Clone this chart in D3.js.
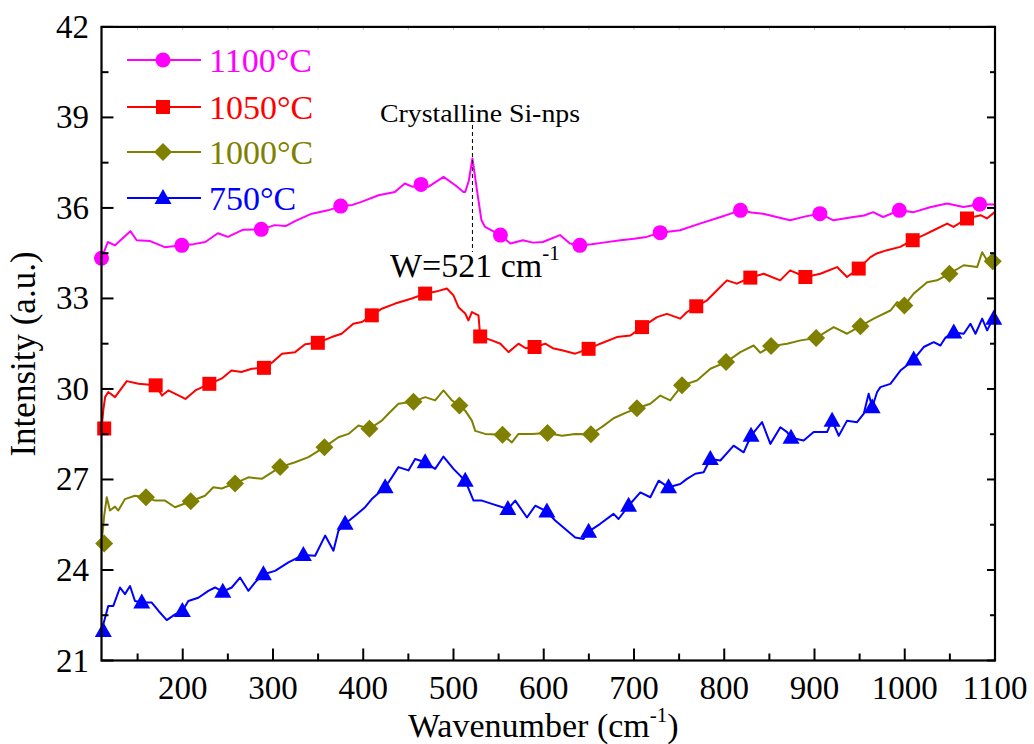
<!DOCTYPE html>
<html><head><meta charset="utf-8">
<script src="https://cdn.jsdelivr.net/npm/d3@7"></script>
<style>
body{margin:0;background:#fff}
text{font-family:"Liberation Serif","Times New Roman",serif}
</style>
</head><body>
<svg id="chart" width="1034" height="744"></svg>
<script>
// ---------------- data ----------------
const xTickValues = [200,300,400,500,600,700,800,900,1000,1100];
const yTickValues = [21,24,27,30,33,36,39,42];
const seriesNames = ["1100°C","1050°C","1000°C","750°C"];

const line1100 = [[110,34.33],[117,34.87],[125,34.76],[142,35.23],[149,34.93],[164,34.9],[180,34.7],[199,34.76],[212,34.8],[225,34.87],[239,35.16],[250,35.04],[267,35.28],[287,35.29],[302,35.43],[314,35.4],[325,35.57],[343,35.81],[361,35.92],[375,36.06],[388,36.1],[398,36.2],[417,36.42],[435,36.53],[446,36.81],[455,36.7],[464,36.78],[472,36.7],[489,37.03],[502,36.75],[511,36.53],[513,36.53],[517,36.9],[521,37.64],[526,36.59],[531,35.59],[535,35.37],[552,35.1],[563,34.82],[577,34.93],[588,34.85],[599,34.87],[618,35.1],[629,34.82],[640,34.76],[653,34.8],[666,34.85],[685,34.93],[700,34.98],[714,35.04],[729,35.18],[751,35.26],[773,35.48],[796,35.7],[808,35.82],[818,35.92],[830,35.85],[843,35.81],[858,35.7],[873,35.59],[890,35.72],[906,35.81],[921,35.59],[943,35.7],[955,35.75],[965,35.86],[976,35.7],[994,35.92],[1010,35.86],[1028,36.02],[1047,36.15],[1065,36.03],[1083,36.12],[1100,36.11]];
const markers1100 = [[110,34.33],[199,34.76],[287,35.29],[375,36.06],[464,36.78],[552,35.1],[640,34.76],[729,35.18],[818,35.92],[906,35.81],[994,35.92],[1083,36.12]];

const line1050 = [[110,28.65],[112,29.3],[114,29.73],[117.5,29.9],[125,29.73],[138,30.26],[151,30.17],[170,30.12],[177,29.78],[184,29.95],[203,29.67],[214,29.95],[229.5,30.17],[243,30.34],[254,30.61],[265,30.56],[276.5,30.67],[290,30.7],[300,30.9],[310,31.17],[324.5,31.22],[335.6,31.48],[349.7,31.53],[365,31.72],[376,31.83],[389,32.16],[398.5,32.22],[409.5,32.44],[420.6,32.66],[435.4,32.83],[453.9,33.0],[468.6,33.16],[483.4,33.25],[492.7,33.33],[500,33.1],[505.5,32.71],[513,32.5],[516.6,32.27],[520.4,32.55],[527.7,32.44],[529.6,31.74],[542.6,31.61],[552,31.5],[561,31.22],[572,31.5],[580,31.35],[589.8,31.39],[601.7,31.5],[610,31.35],[620.2,31.28],[634.9,31.17],[649.7,31.33],[662.6,31.5],[681,31.72],[696,31.77],[708.9,32.05],[725.5,32.38],[736.5,32.49],[751.3,32.33],[758.7,32.55],[769,32.74],[781,32.94],[792,33.27],[803,33.6],[814,33.49],[828.9,33.69],[843.7,33.82],[862,33.6],[873,33.93],[889.9,33.71],[906.5,33.82],[925,34.04],[936,33.71],[949,33.99],[962,34.37],[969,34.49],[980.5,34.6],[995,34.71],[1008.8,34.93],[1021,35.1],[1032,35.26],[1047,35.48],[1054,35.37],[1069,35.65],[1084,35.76],[1091,35.65],[1100,35.87]];
const markers1050 = [[113,28.69],[170,30.12],[229.5,30.17],[290,30.7],[349.7,31.53],[409.5,32.44],[468.6,33.16],[529.6,31.74],[589.8,31.39],[649.7,31.33],[708.9,32.05],[769,32.74],[828.9,33.69],[889.9,33.71],[949,33.99],[1008.8,34.93],[1069,35.65]];

const line1000 = [[110,24.86],[113,25.8],[115.8,26.41],[119.4,25.97],[125,26.1],[128.6,25.97],[136,26.35],[147,26.46],[159.3,26.41],[169.3,26.3],[180.4,26.3],[191.5,26.08],[208.9,26.28],[224.7,26.46],[233.9,26.74],[243.2,26.7],[258,26.87],[272.7,27.07],[287.6,27.02],[307.9,27.41],[324.5,27.57],[339.3,27.74],[357,28.07],[372.5,28.4],[383.6,28.51],[394.7,28.79],[406.9,28.68],[420.6,28.95],[427.9,29.18],[439,29.51],[455.7,29.58],[468.6,29.73],[479.7,29.62],[488.9,29.95],[498.2,29.62],[506.6,29.45],[513,29.28],[520.4,28.95],[524.1,28.61],[535.1,28.51],[554.3,28.48],[564.7,28.23],[572,28.51],[586.9,28.51],[604.2,28.54],[620.2,28.45],[634.9,28.51],[652.3,28.5],[665,28.75],[677.4,29.03],[690,29.2],[703.3,29.36],[718.1,29.51],[729.1,29.78],[740.2,29.62],[753.2,30.12],[769.8,30.28],[784.6,30.67],[802,30.89],[817.8,31.22],[832.6,31.44],[840,31.2],[851.9,31.42],[869.6,31.5],[884.6,31.61],[901.8,31.69],[921.3,32.05],[936.1,31.83],[950.9,32.08],[965.6,32.33],[984.1,32.6],[991.6,32.88],[999.6,32.77],[1009.9,33.16],[1024.8,33.54],[1035.8,33.6],[1049.5,33.82],[1065.4,34.1],[1080.2,34.04],[1085.8,34.53],[1091.3,34.26],[1100,34.23]];
const markers1000 = [[113,24.88],[159.3,26.41],[208.9,26.28],[258,26.87],[307.9,27.41],[357,28.07],[406.9,28.68],[455.7,29.58],[506.6,29.45],[554.3,28.48],[604.2,28.54],[652.3,28.5],[703.3,29.36],[753.2,30.12],[802,30.89],[851.9,31.42],[901.8,31.69],[950.9,32.08],[999.6,32.77],[1049.5,33.82],[1097.5,34.23]];

const line750 = [[110,21.98],[117.5,22.81],[123.1,22.81],[130.5,23.42],[136,23.2],[141.6,23.47],[147.1,22.97],[154.6,22.92],[165.7,22.92],[173,22.65],[182.3,22.34],[191.5,22.53],[199.6,22.64],[206.2,22.97],[217.3,23.08],[228.4,23.31],[235.8,23.42],[244.4,23.28],[254.3,23.42],[263.5,23.75],[272.7,23.31],[280.2,23.59],[289.4,23.86],[302.3,23.97],[317.1,24.25],[333.7,24.5],[346.7,24.47],[357.8,25.14],[367,24.64],[372.5,25.3],[379.9,25.53],[391,25.8],[402.1,26.08],[409.5,26.35],[424.3,26.74],[431.7,27.07],[439,27.41],[450.1,27.3],[457.5,27.68],[468.6,27.57],[479.7,27.35],[488.9,27.76],[500,27.35],[513,26.96],[522.2,26.3],[531.5,26.3],[542.6,26.19],[560.3,26.02],[568.4,26.3],[581.4,25.74],[590.6,26.13],[603.5,25.94],[612.7,25.64],[623.8,25.36],[634.9,25.08],[644.1,25.03],[649.7,25.27],[662.6,25.53],[677.4,25.86],[682.9,25.69],[694,26.13],[707,26.57],[718.1,26.41],[727.3,26.96],[738.3,26.74],[751.3,26.85],[758.7,27.02],[767.9,27.19],[777.2,27.24],[784.6,27.68],[795.7,27.63],[810.4,28.12],[821.5,27.9],[829.7,28.45],[841.9,28.9],[851.1,28.18],[862.2,28.73],[869.6,28.57],[874,28.38],[888,28.29],[899.1,28.57],[913.9,28.57],[919.5,28.95],[926.9,28.45],[936.1,28.95],[947.2,28.9],[954.6,29.18],[960,29.84],[963.9,29.39],[969.4,29.9],[973,30.06],[984.1,30.17],[995.2,30.61],[1004.4,30.83],[1009.9,30.98],[1021,31.39],[1032.1,31.55],[1039.5,31.44],[1045,31.7],[1054.3,31.87],[1065.4,31.83],[1072.8,32.16],[1078.4,31.83],[1085.8,32.33],[1091.3,31.94],[1096.8,32.27],[1100,32.33]];
const markers750 = [[112,21.98],[154.6,22.92],[199.6,22.64],[244.4,23.28],[289.4,23.86],[333.7,24.5],[379.9,25.53],[424.3,26.74],[468.6,27.57],[513,26.96],[560.3,26.02],[603.5,25.94],[649.7,25.27],[694,26.13],[738.3,26.74],[784.6,27.68],[829.7,28.45],[874,28.38],[919.5,28.95],[963.9,29.39],[1009.9,30.98],[1054.3,31.87],[1098.6,32.33]];

const peakPosition = 521;
const annotationTitle = "Crystalline Si-nps";
const peakLabel = "W=521 cm";

// ---------------- chart ----------------
const colors = ["#ff00ff","#ff0000","#808000","#0000ff"];
const shapes = ["circle","square","diamond","triangle"];
const lines = [line1100,line1050,line1000,line750];
const marks = [markers1100,markers1050,markers1000,markers750];

const svg = d3.select("#chart");
const L=101.5, R=995, T=26.9, B=660.5;
const x = d3.scaleLinear().domain([110,1100]).range([L,R]);
const y = d3.scaleLinear().domain([21,42]).range([B,T]);

function symbolPath(shape){
  if(shape==="circle") return "M7.5,0A7.5,7.5,0,1,1,-7.5,0A7.5,7.5,0,1,1,7.5,0Z";
  if(shape==="square") return "M-7,-7H7V7H-7Z";
  if(shape==="diamond") return "M0,-9L9,0L0,9L-9,0Z";
  return "M0,-9L8.5,6H-8.5Z";
}

const plot = svg.append("g");
const lineGen = d3.line().x(d=>x(d[0])).y(d=>y(d[1]));
lines.forEach((data,i)=>{
  plot.append("path").attr("d",lineGen(data)).attr("fill","none")
    .attr("stroke",colors[i]).attr("stroke-width",2).attr("stroke-linejoin","round");
  plot.selectAll(null).data(marks[i]).enter().append("path")
    .attr("d",symbolPath(shapes[i]))
    .attr("transform",d=>`translate(${x(d[0])},${y(d[1])})`)
    .attr("fill",colors[i]);
});

// annotation
svg.append("line").attr("x1",x(peakPosition)).attr("x2",x(peakPosition))
  .attr("y1",125).attr("y2",252).attr("stroke","#000").attr("stroke-width",1)
  .attr("stroke-dasharray","4,3");
svg.append("text").attr("x",380).attr("y",122).attr("font-size",25)
  .attr("textLength",200).attr("lengthAdjust","spacingAndGlyphs").text(annotationTitle);
const wt = svg.append("text").attr("x",390).attr("y",277).attr("font-size",34);
wt.append("tspan").text(peakLabel);
wt.append("tspan").attr("dy",-17).attr("font-size",21).text("-1");

// axes
const axisG = svg.append("g");
const xMinor = d3.range(150,1100,100);
const yMinor = d3.range(22.5,42,3);
function addTicks(vals, fn, len){
  vals.forEach(v=>{ const [x1,y1,x2,y2]=fn(v,len);
    axisG.append("line").attr("x1",x1).attr("y1",y1).attr("x2",x2).attr("y2",y2)
      .attr("stroke","#000").attr("stroke-width",2); });
}
addTicks(xTickValues, (v,l)=>[x(v),B,x(v),B-l], 12);
addTicks(xMinor, (v,l)=>[x(v),B,x(v),B-l], 7);
addTicks(yTickValues, (v,l)=>[L,y(v),L+l,y(v)], 12);
addTicks(yMinor, (v,l)=>[L,y(v),L+l,y(v)], 7);
addTicks(yTickValues, (v,l)=>[R,y(v),R-l,y(v)], 8);
addTicks(yMinor, (v,l)=>[R,y(v),R-l,y(v)], 5);
// top faint ticks
xTickValues.concat(xMinor).forEach(v=>{
  axisG.append("line").attr("x1",x(v)).attr("x2",x(v)).attr("y1",T).attr("y2",T+3)
    .attr("stroke","#bbb").attr("stroke-width",1);
});
axisG.append("rect").attr("x",L).attr("y",T).attr("width",R-L).attr("height",B-T)
  .attr("fill","none").attr("stroke","#000").attr("stroke-width",2.2);

// tick labels
svg.selectAll(null).data(xTickValues).enter().append("text")
  .attr("x",d=>x(d)).attr("y",699).attr("text-anchor","middle").attr("font-size",33)
  .text(d=>d);
svg.selectAll(null).data(yTickValues).enter().append("text")
  .attr("x",89).attr("y",d=>y(d)+11).attr("text-anchor","end").attr("font-size",33)
  .text(d=>d);

// axis titles
const xt = svg.append("text").attr("x",408).attr("y",737).attr("font-size",34);
xt.append("tspan").text("Wavenumber (cm");
xt.append("tspan").attr("dy",-15).attr("font-size",21).text("-1");
xt.append("tspan").attr("dy",15).text(")");
svg.append("text").attr("transform","translate(35,354) rotate(-90)")
  .attr("text-anchor","middle").attr("font-size",35).text("Intensity (a.u.)");

// legend
const legY = [60,107,152,198];
seriesNames.forEach((name,i)=>{
  const g = svg.append("g").attr("transform",`translate(0,${legY[i]})`);
  g.append("line").attr("x1",127).attr("x2",201).attr("y1",0).attr("y2",0)
    .attr("stroke",colors[i]).attr("stroke-width",2);
  g.append("path").attr("d",symbolPath(shapes[i])).attr("transform","translate(163,0)").attr("fill",colors[i]);
  g.append("text").attr("x",209).attr("y",12).attr("font-size",34).attr("fill",colors[i]).text(name);
});
</script>
</body></html>
